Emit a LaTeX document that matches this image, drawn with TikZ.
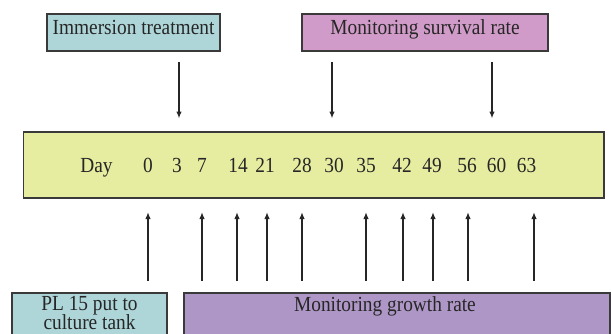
\documentclass[tikz,border=0pt]{standalone}
\usepackage{fontspec}
\setmainfont{Liberation Serif}[FakeStretch=0.9]
\usetikzlibrary{arrows.meta}
\definecolor{teal1}{HTML}{AED6D8}
\definecolor{pink1}{HTML}{D09BC8}
\definecolor{lav1}{HTML}{AE97C7}
\definecolor{yel1}{HTML}{E6ECA0}
\definecolor{edge1}{HTML}{3A3A3A}
\definecolor{ink1}{HTML}{262626}
\tikzset{
  box/.style={draw=edge1, line width=1.1pt},
  lbl/.style={font=\fontsize{21.5}{19}\selectfont, text=ink1, inner sep=0pt, anchor=base},
  arr/.style={draw=ink1, line width=1.6pt, -{Latex[length=7pt,width=5.5pt]}},
}
\begin{document}
\begin{tikzpicture}[x=1pt,y=-1pt]
\useasboundingbox (0,0) rectangle (611,333);
\clip (0,0) rectangle (611,333);
% boxes
\filldraw[box, fill=teal1] (47,14) rectangle (220,51);
\node[lbl] (imm) at (133.5,34.5) {Immersion treatment};
\filldraw[box, fill=pink1] (302,14) rectangle (548,51);
\node[lbl] (surv) at (425,34.5) {Monitoring survival rate};
\filldraw[box, fill=yel1] (23.5,132) rectangle (604,198);
\node[lbl] (day) at (96.5,172.5) {Day};
\foreach \n/\x in {0/148,3/177,7/202,14/238,21/265,28/302,30/334,35/366,42/402,49/432,56/467,60/496.5,63/526.5}
  \node[lbl] (d\n) at (\x,172.5) {\n};
\filldraw[box, fill=teal1] (12,293) rectangle (167,345);
\node[lbl, align=center, anchor=north] (pl) at (89.5,296) {PL 15 put to\\[-1pt]culture tank};
\filldraw[box, fill=lav1] (184,293) rectangle (610,345);
\node[lbl] (grow) at (385,311) {Monitoring growth rate};
% down arrows
\foreach \x/\k in {179/a,332/b,492/c}{
  \coordinate (s\k) at (\x,62);
  \coordinate (e\k) at (\x,118.5);
  \draw[arr] (s\k) -- (e\k);
}
% up arrows
\foreach \x/\k in {148/a,202/b,237/c,267/d,302/e,366/f,403/g,433/h,468/i,534/j}{
  \coordinate (u\k) at (\x,281);
  \coordinate (v\k) at (\x,212);
  \draw[arr] (u\k) -- (v\k);
}
\end{tikzpicture}
\end{document}
